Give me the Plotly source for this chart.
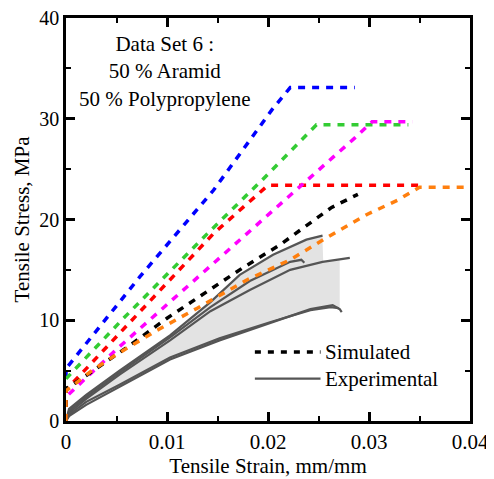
import numpy as np
import plotly.graph_objects as go

# ---------------- data ----------------
# Simulated curves (strain, stress)
blue_x = [0, 0, 0.0073, 0.0146, 0.0204, 0.0222, 0.0286]
blue_y = [0, 5.2, 14.3, 22.9, 30.9, 33.1, 33.1]

green_x = [0, 0, 0.0057, 0.014, 0.0194, 0.0248, 0.0339]
green_y = [0, 4.2, 10.2, 18.6, 23.9, 29.4, 29.4]

red_x = [0, 0, 0.0022, 0.0146, 0.0200, 0.0350]
red_y = [0, 3.1, 5.4, 18.6, 23.4, 23.4]

magenta_x = [0, 0, 0.0051, 0.0174, 0.0286, 0.0303, 0.0343]
magenta_y = [0, 2.4, 7.2, 18.1, 28.1, 29.7, 29.7]

black_x = [0, 0, 0.0014, 0.0063, 0.0100, 0.0139, 0.0175, 0.0212, 0.0239, 0.0263, 0.0289]
black_y = [0, 3.2, 4.1, 7.5, 10.2, 12.8, 15.2, 17.5, 19.5, 21.2, 22.5]

orange_x = [0, 0, 0.0027, 0.0050, 0.0090, 0.0130, 0.0179, 0.0222, 0.0258, 0.0298, 0.0328, 0.0350, 0.0400]
orange_y = [0, 3.0, 5.1, 6.6, 9.0, 11.2, 14.0, 16.0, 18.2, 20.5, 21.9, 23.2, 23.2]

sim_colors = ["#0000ff", "#33cc33", "#ff0000", "#ff00ff", "#000000", "#ff7f0e"]

# Experimental curves
exp1_x = [0, 0.0003, 0.0020, 0.0053, 0.0103, 0.0143, 0.0172, 0.0205, 0.0238, 0.0254]
exp1_y = [0, 1.2, 2.6, 5.0, 8.5, 11.8, 14.5, 16.5, 18.0, 18.4]

exp2_x = [0, 0.0003, 0.0020, 0.0053, 0.0103, 0.0143, 0.0182, 0.0205, 0.0222, 0.0233, 0.0236]
exp2_y = [0, 1.0, 2.4, 4.8, 8.3, 11.3, 13.9, 15.0, 15.8, 16.0, 15.7]

exp3_x = [0, 0.0003, 0.0020, 0.0053, 0.0103, 0.0143, 0.0182, 0.0222, 0.0254, 0.0281]
exp3_y = [0, 0.8, 2.2, 4.6, 8.0, 10.9, 13.0, 15.0, 15.8, 16.2]

exp4_x = [0, 0.0003, 0.0020, 0.0053, 0.0103, 0.0152, 0.0202, 0.0242, 0.0264, 0.0271, 0.0273]
exp4_y = [0, 0.5, 1.6, 3.4, 6.1, 8.0, 9.7, 11.1, 11.5, 11.1, 10.8]

exp5_x = [0, 0.0004, 0.0020, 0.0053, 0.0103, 0.0152, 0.0202, 0.0242, 0.0262, 0.0270]
exp5_y = [0, 0.7, 1.9, 3.6, 6.3, 8.2, 9.8, 11.0, 11.3, 11.2]

exp_color = "#555555"

x_ticks = [0, 0.01, 0.02, 0.03, 0.04]
x_labels = ["0", "0.01", "0.02", "0.03", "0.04"]
y_ticks = [0, 10, 20, 30, 40]
y_labels = ["0", "10", "20", "30", "40"]

note_text = "Data Set 6 :<br>50 % Aramid<br>50 % Polypropylene"

SERIF = "Liberation Serif"
FS = 21

# ---------------- figure ----------------
fig = go.Figure()

exps = [(exp1_x, exp1_y), (exp2_x, exp2_y), (exp3_x, exp3_y), (exp4_x, exp4_y), (exp5_x, exp5_y)]

# shaded envelope
fill_end = 0.0271
grid = np.linspace(0, fill_end, 300)
upper = np.full_like(grid, -np.inf)
lower = np.full_like(grid, np.inf)
for ex, ey in exps:
    ex = np.array(ex); ey = np.array(ey)
    m = grid <= ex[-1]
    vals = np.interp(grid[m], ex, ey)
    upper[m] = np.maximum(upper[m], vals)
    lower[m] = np.minimum(lower[m], vals)
fig.add_trace(go.Scatter(
    x=np.concatenate([grid, grid[::-1]]),
    y=np.concatenate([upper, lower[::-1]]),
    fill="toself", fillcolor="rgb(227,227,227)",
    line=dict(width=0), mode="lines", hoverinfo="skip", showlegend=False))

for ex, ey in exps:
    fig.add_trace(go.Scatter(x=ex, y=ey, mode="lines",
                             line=dict(color=exp_color, width=2.2),
                             showlegend=False))

sims = [(blue_x, blue_y), (green_x, green_y), (red_x, red_y),
        (magenta_x, magenta_y), (black_x, black_y), (orange_x, orange_y)]
for (sx, sy), c in zip(sims, sim_colors):
    fig.add_trace(go.Scatter(x=sx, y=sy, mode="lines",
                             line=dict(color=c, width=3.5, dash="7px,7px"),
                             showlegend=False))

# legend drawn manually
fig.add_shape(type="line", x0=0.0187, x1=0.0252, y0=6.85, y1=6.85,
              line=dict(color="black", width=3.5, dash="6px,7px"))
fig.add_shape(type="line", x0=0.0187, x1=0.0252, y0=4.2, y1=4.2,
              line=dict(color=exp_color, width=2.2))
fig.add_annotation(x=0.0254, y=6.85, text="Simulated", showarrow=False,
                   xanchor="left", yanchor="middle",
                   font=dict(family=SERIF, size=FS, color="black"))
fig.add_annotation(x=0.0254, y=4.2, text="Experimental", showarrow=False,
                   xanchor="left", yanchor="middle",
                   font=dict(family=SERIF, size=FS, color="black"))

fig.add_annotation(x=0.0098, y=34.7, text=note_text, showarrow=False,
                   xanchor="center", yanchor="middle", align="center",
                   font=dict(family=SERIF, size=FS, color="black"))

axis_common = dict(showline=True, linecolor="black", linewidth=2.5, mirror="allticks",
                   ticks="inside", ticklen=9, tickwidth=2.5, tickcolor="black",
                   showgrid=False, zeroline=False, automargin=False,
                   ticklabeloverflow="allow")

fig.update_xaxes(range=[0, 0.04], tickvals=x_ticks, ticktext=x_labels,
                 tickfont=dict(family=SERIF, size=FS, color="black"),
                 title=dict(text="Tensile Strain, mm/mm", standoff=2,
                            font=dict(family=SERIF, size=FS, color="black")),
                 minor=dict(ticks="inside", dtick=0.005, ticklen=5, tickwidth=2, tickcolor="black"),
                 **axis_common)
fig.update_yaxes(range=[0, 40], tickvals=y_ticks, ticktext=y_labels,
                 tickfont=dict(family=SERIF, size=20, color="black"),
                 title=dict(text="Tensile Stress, MPa", standoff=4,
                            font=dict(family=SERIF, size=FS, color="black")),
                 minor=dict(ticks="inside", dtick=5, ticklen=5, tickwidth=2, tickcolor="black"),
                 **axis_common)

fig.update_layout(width=486, height=471,
                  margin=dict(l=58, r=24, t=10, b=58),
                  plot_bgcolor="white", paper_bgcolor="white",
                  font=dict(family=SERIF),
                  showlegend=False)

fig.write_html("out.html")
